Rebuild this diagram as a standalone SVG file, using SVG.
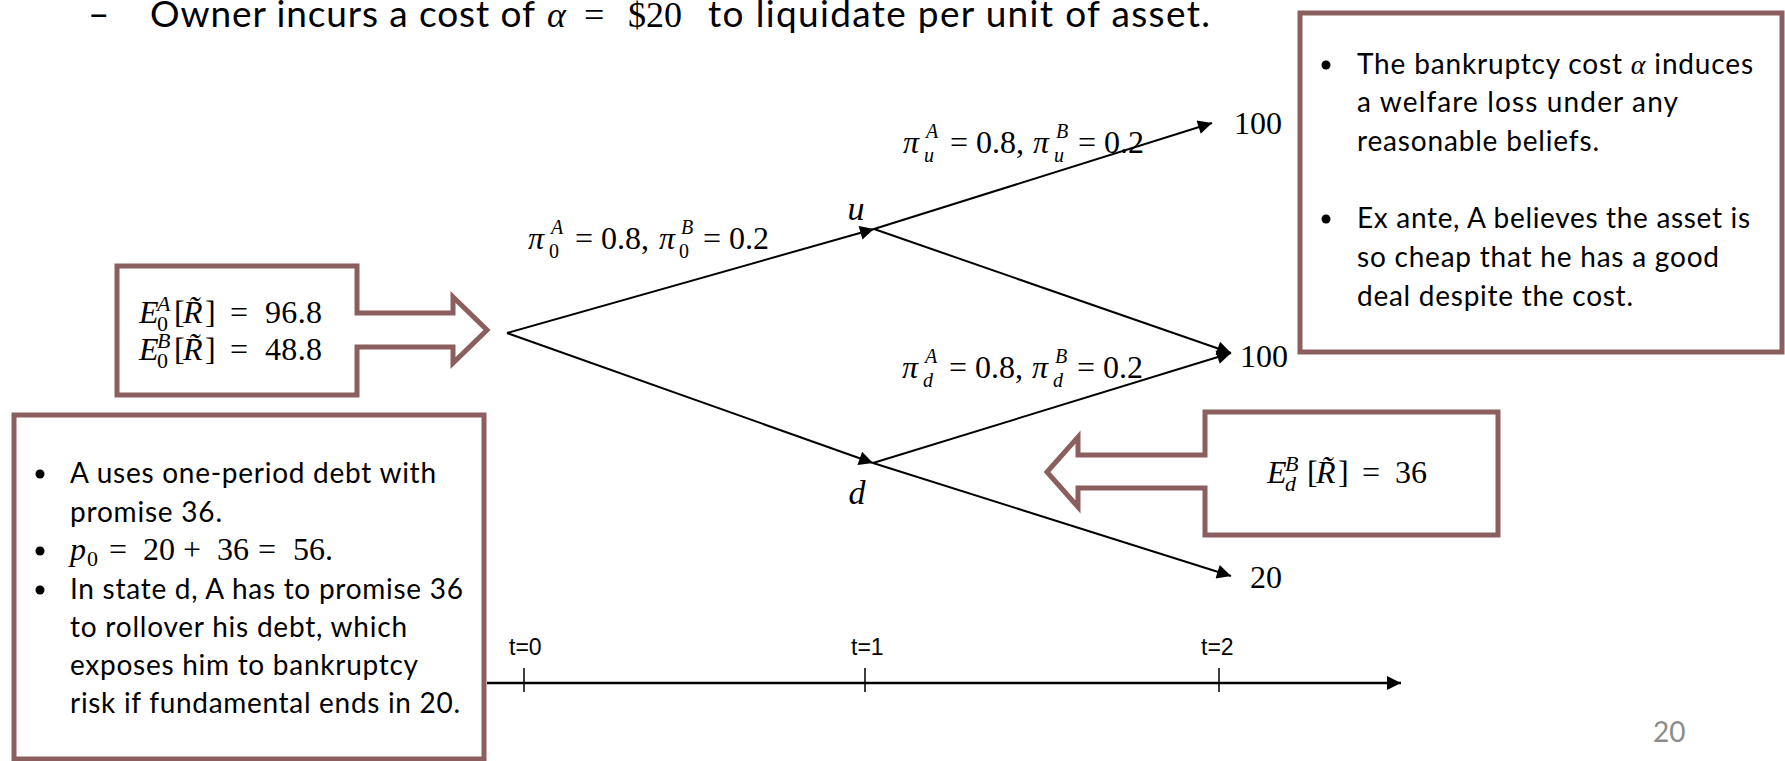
<svg xmlns="http://www.w3.org/2000/svg" width="1785" height="761" viewBox="0 0 1785 761">
<style>
.box{fill:#fff;stroke:#8B5F5F;stroke-width:5}
.txt{font-family:Lato,"Open Sans",sans-serif;font-size:28px;fill:#000}
.ttl{font-family:Lato,"Open Sans",sans-serif;font-size:37px;fill:#000}
.m{font-family:"Liberation Serif","DejaVu Serif",serif;font-size:32px;fill:#000}
.ms{font-family:"Liberation Serif","DejaVu Serif",serif;font-size:22px;fill:#000}
.mt{font-family:"Liberation Serif","DejaVu Serif",serif;font-size:36px;fill:#000}
.eq{font-family:"Liberation Serif","DejaVu Serif",serif;font-size:32px;fill:#000}
.s{font-size:20px}
.i{font-style:italic}
.num{font-family:"Liberation Serif","DejaVu Serif",serif;font-size:32px;fill:#000}
.lbl{font-family:"Liberation Serif",serif;font-size:34px;font-style:italic;fill:#000}
.tl{font-family:"Liberation Sans",Arial,sans-serif;font-size:23px;fill:#000}
.edge{stroke:#000;stroke-width:2;fill:none}
.bul{fill:#000}
</style>
<defs>
<marker id="ah" viewBox="0 0 10 10" refX="10" refY="5" markerWidth="18" markerHeight="14" markerUnits="userSpaceOnUse" orient="auto">
<path d="M0,0 L10,5 L0,10 z" fill="#000"/>
</marker>
</defs>

<g id="title">
<text class="ttl" x="88" y="27">–</text>
<text class="ttl" x="150" y="27" textLength="385">Owner incurs a cost of</text>
<text class="mt i" x="547" y="27">α</text>
<text class="mt" x="584" y="27">=</text>
<text class="mt" x="628" y="27">$20</text>
<text class="ttl" x="708" y="27" textLength="502">to liquidate per unit of asset.</text>
</g>

<g id="connectors">
<line class="edge" x1="507" y1="333" x2="874" y2="229" marker-end="url(#ah)"/>
<line class="edge" x1="507" y1="333" x2="873" y2="463" marker-end="url(#ah)"/>
<line class="edge" x1="874" y1="229" x2="1212" y2="123" marker-end="url(#ah)"/>
<line class="edge" x1="874" y1="229" x2="1231" y2="353" marker-end="url(#ah)"/>
<line class="edge" x1="873" y1="463" x2="1231" y2="353" marker-end="url(#ah)"/>
<line class="edge" x1="873" y1="463" x2="1231" y2="576" marker-end="url(#ah)"/>
<line stroke="#000" stroke-width="2.5" x1="487" y1="683" x2="1401" y2="683" marker-end="url(#ah)"/>
<line stroke="#000" stroke-width="1.5" x1="524" y1="668" x2="524" y2="692"/>
<line stroke="#000" stroke-width="1.5" x1="865" y1="668" x2="865" y2="692"/>
<line stroke="#000" stroke-width="1.5" x1="1219" y1="668" x2="1219" y2="692"/>
</g>

<g id="edge-labels">
<text class="eq" y="249"><tspan x="528" class="i">π</tspan><tspan x="551" y="234" class="s i">A</tspan><tspan x="549" y="258" class="s">0</tspan><tspan x="575" y="249">= 0.8,</tspan><tspan x="659" class="i">π</tspan><tspan x="681" y="234" class="s i">B</tspan><tspan x="679" y="258" class="s">0</tspan><tspan x="703" y="249">= 0.2</tspan></text>
<text class="eq" y="153"><tspan x="903" class="i">π</tspan><tspan x="926" y="138" class="s i">A</tspan><tspan x="924" y="162" class="s i">u</tspan><tspan x="950" y="153">= 0.8,</tspan><tspan x="1033" class="i">π</tspan><tspan x="1056" y="138" class="s i">B</tspan><tspan x="1054" y="162" class="s i">u</tspan><tspan x="1078" y="153">= 0.2</tspan></text>
<text class="eq" y="378"><tspan x="902" class="i">π</tspan><tspan x="925" y="363" class="s i">A</tspan><tspan x="923" y="387" class="s i">d</tspan><tspan x="949" y="378">= 0.8,</tspan><tspan x="1032" class="i">π</tspan><tspan x="1055" y="363" class="s i">B</tspan><tspan x="1053" y="387" class="s i">d</tspan><tspan x="1077" y="378">= 0.2</tspan></text>
</g>

<g id="node-u"><text class="lbl" x="856" y="220" text-anchor="middle">u</text></g>
<g id="node-d"><text class="lbl" x="857" y="504" text-anchor="middle">d</text></g>
<g id="leaf-uu"><text class="num" x="1234" y="134">100</text></g>
<g id="leaf-ud"><text class="num" x="1240" y="367">100</text></g>
<g id="leaf-dd"><text class="num" x="1250" y="588">20</text></g>

<g id="box-e0">
<path class="box" d="M117,266 H357 V313 H453 V297 L487,330 L453,363 V347 H357 V395 H117 Z"/>
<text class="m i" x="139" y="323">E</text>
<text class="ms i" x="157" y="311">A</text>
<text class="ms" x="157" y="331">0</text>
<text class="m" x="174" y="323">[</text>
<text class="m i" x="183" y="323">R̃</text>
<text class="m" x="205" y="323">]</text>
<text class="m" x="230" y="323">=</text>
<text class="m" x="265" y="323" textLength="57">96.8</text>
<text class="m i" x="139" y="360">E</text>
<text class="ms i" x="157" y="348">B</text>
<text class="ms" x="157" y="368">0</text>
<text class="m" x="174" y="360">[</text>
<text class="m i" x="183" y="360">R̃</text>
<text class="m" x="205" y="360">]</text>
<text class="m" x="230" y="360">=</text>
<text class="m" x="265" y="360" textLength="57">48.8</text>
</g>

<g id="box-ed">
<path class="box" d="M1205,412 H1498 V535 H1205 V488 H1078 V507 L1047,472 L1078,437 V455 H1205 Z"/>
<text class="m i" x="1267" y="483">E</text>
<text class="ms i" x="1285" y="471">B</text>
<text class="ms i" x="1285" y="491">d</text>
<text class="m" x="1307" y="483">[</text>
<text class="m i" x="1316" y="483">R̃</text>
<text class="m" x="1338" y="483">]</text>
<text class="m" x="1362" y="483">=</text>
<text class="m" x="1395" y="483">36</text>
</g>

<g id="box-right">
<rect class="box" x="1300" y="13" width="482" height="339"/>
<circle class="bul" cx="1326" cy="65" r="4.5"/>
<text class="txt" x="1357" y="74" textLength="396">The bankruptcy cost <tspan font-family="Liberation Serif" font-style="italic">α</tspan> induces</text>
<text class="txt" x="1357" y="112" textLength="321">a welfare loss  under any</text>
<text class="txt" x="1357" y="151" textLength="242">reasonable beliefs.</text>
<circle class="bul" cx="1326" cy="219" r="4.5"/>
<text class="txt" x="1357" y="228" textLength="393">Ex ante, A believes the asset is</text>
<text class="txt" x="1357" y="267" textLength="362">so cheap that he has a good</text>
<text class="txt" x="1357" y="306" textLength="276">deal despite the cost.</text>
</g>

<g id="box-left">
<rect class="box" x="14" y="415" width="470" height="344"/>
<circle class="bul" cx="40" cy="474" r="4.5"/>
<text class="txt" x="70" y="483" textLength="366">A uses one-period debt with</text>
<text class="txt" x="70" y="522" textLength="152">promise 36.</text>
<circle class="bul" cx="40" cy="551" r="4.5"/>
<text class="m i" x="70" y="560">p</text>
<text class="ms" x="87" y="566">0</text>
<text class="m" x="109" y="560">=</text>
<text class="m" x="143" y="560">20</text>
<text class="m" x="183" y="560">+</text>
<text class="m" x="217" y="560">36</text>
<text class="m" x="258" y="560">=</text>
<text class="m" x="293" y="560">56.</text>
<circle class="bul" cx="40" cy="590" r="4.5"/>
<text class="txt" x="70" y="599" textLength="393">In state d, A has to promise 36</text>
<text class="txt" x="70" y="637" textLength="337">to rollover his debt, which</text>
<text class="txt" x="70" y="675" textLength="348">exposes him to bankruptcy</text>
<text class="txt" x="70" y="713" textLength="390">risk if fundamental ends in 20.</text>
</g>

<g id="timeline-labels">
<text class="tl" x="509" y="655">t=0</text>
<text class="tl" x="851" y="655">t=1</text>
<text class="tl" x="1201" y="655">t=2</text>
</g>

<g id="page-number">
<text x="1653" y="742" font-family="Lato,'Open Sans',sans-serif" font-size="28" fill="#8c8c8c">20</text>
</g>
</svg>
